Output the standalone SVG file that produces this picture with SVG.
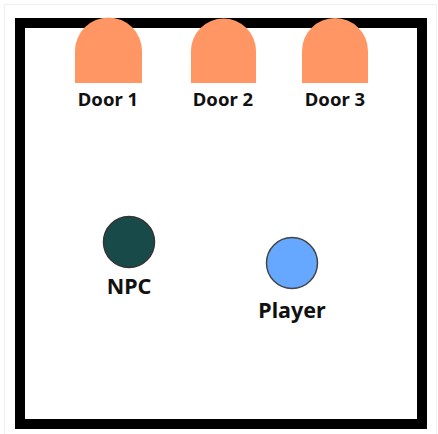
<svg xmlns="http://www.w3.org/2000/svg" width="438" height="434" viewBox="0 0 438 434">
<style>
.door{fill:#FF9663;}
.lbl{font-family:"Noto Sans","Liberation Sans",sans-serif;font-weight:bold;fill:#111;text-anchor:middle;}
.dl{font-size:18.5px;}
.nl{font-size:21.5px;}
</style>
<rect x="0" y="0" width="438" height="434" fill="#fff"/>
<rect x="4.5" y="4.5" width="432" height="432" fill="none" stroke="#f0f0f0" stroke-width="1"/>
<g id="room">
<rect x="20" y="23" width="402" height="401" fill="#fff" stroke="#000" stroke-width="10"/>
</g>
<g id="door1">
<path class="door" d="M75,83 V51 A33.5,33.5 0 0 1 142,51 V83 Z"/>
<text class="lbl dl" x="108" y="106">Door 1</text>
</g>
<g id="door2">
<path class="door" d="M191,83 V51 A32.5,32.5 0 0 1 256,51 V83 Z"/>
<text class="lbl dl" x="223" y="106">Door 2</text>
</g>
<g id="door3">
<path class="door" d="M302,83 V51 A33,33 0 0 1 368,51 V83 Z"/>
<text class="lbl dl" x="335" y="106">Door 3</text>
</g>
<g id="npc">
<circle cx="129" cy="242" r="25.5" fill="#194A4A" stroke="#333" stroke-width="1.5"/>
<text class="lbl nl" x="129" y="294">NPC</text>
</g>
<g id="player">
<circle cx="292" cy="263" r="25.5" fill="#66A8FF" stroke="#444" stroke-width="1.5"/>
<text class="lbl nl" x="292" y="318">Player</text>
</g>
<g id="connectors"></g>
</svg>
